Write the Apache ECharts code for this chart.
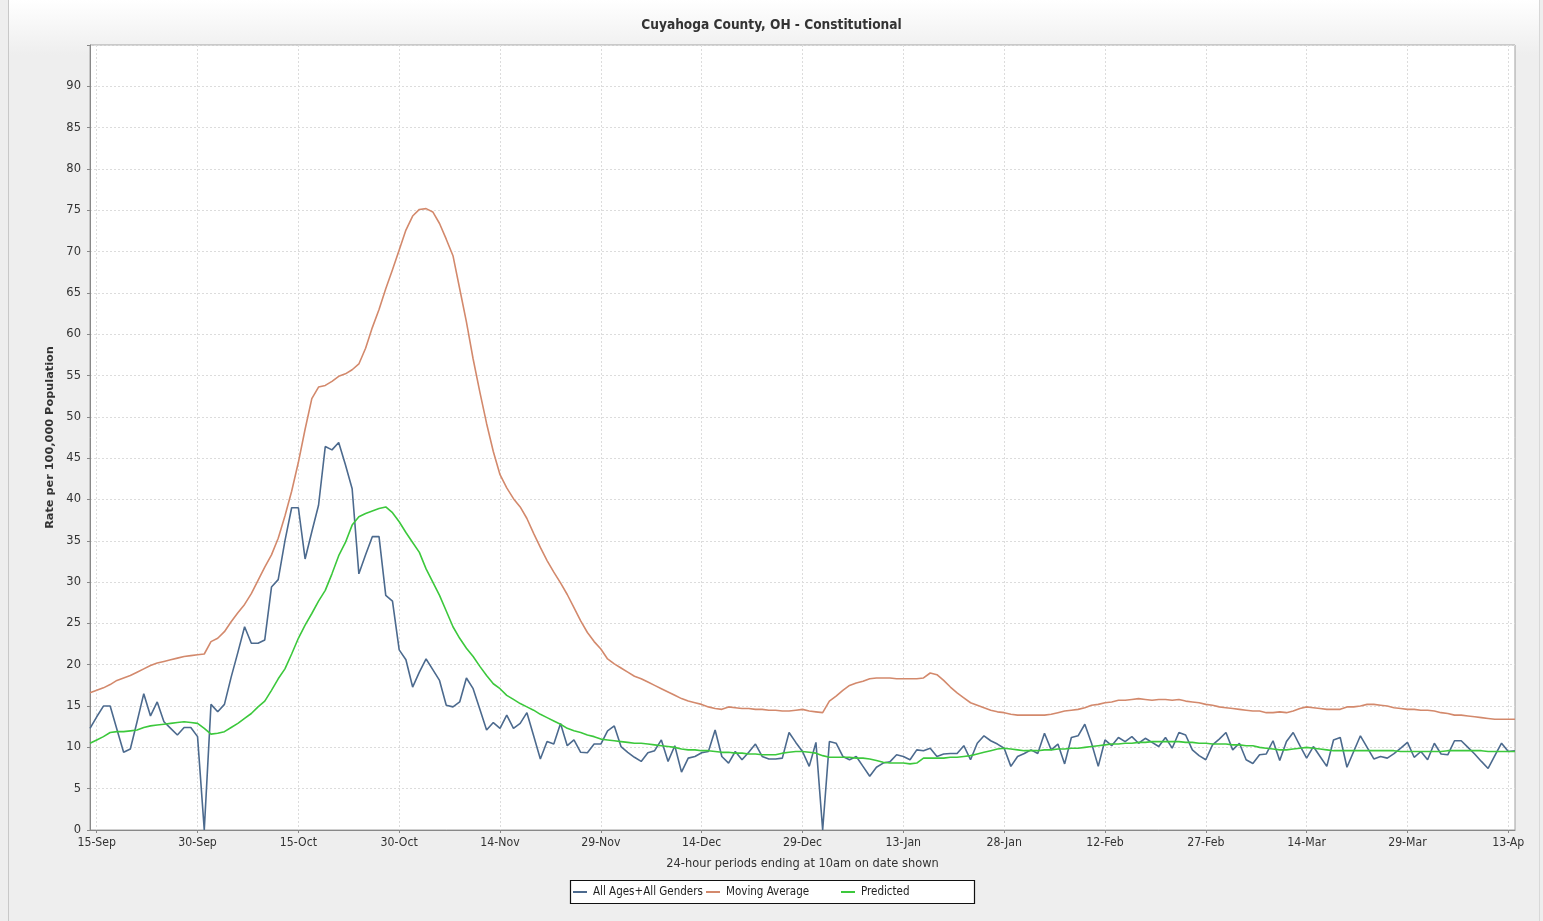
<!DOCTYPE html>
<html>
<head>
<meta charset="utf-8">
<script src="https://cdn.jsdelivr.net/npm/echarts@6/dist/echarts.min.js"></script>
<style>
  html, body { margin: 0; padding: 0; background: #eeeeee; }
  #panel { position: absolute; left: 8px; top: 0; width: 1530px; height: 921px;
           background: linear-gradient(#ffffff 0px, #eeeeee 55px, #eeeeee 921px);
           border-left: 1px solid #c8c8c8; border-right: 1px solid #d8d8d8; }
  #chart { position: absolute; left: 0; top: 0; width: 1543px; height: 921px; }
</style>
</head>
<body>
<div id="panel"></div>
<div id="chart"></div>
<script>
// ---- data ----
const startDate = [2020, 8, 14]; // 14-Sep-2020, daily values
const tickLabels = ['15-Sep','30-Sep','15-Oct','30-Oct','14-Nov','29-Nov','14-Dec','29-Dec','13-Jan','28-Jan','12-Feb','27-Feb','14-Mar','29-Mar','13-Ap'];
const tickFirstIndex = 1;
const tickEvery = 15;
const seriesNames = ['All Ages+All Genders', 'Moving Average', 'Predicted'];

const allAges = [
12.3,13.7,15.0,15.0,12.2,9.4,9.8,13.1,16.5,13.8,
15.5,13.1,12.3,11.5,12.4,12.4,11.3,0,15.2,14.3,
15.2,18.5,21.5,24.6,22.6,22.6,23.0,29.4,30.3,35.0,
39.0,39.0,32.8,36.1,39.3,46.4,46.0,46.9,44.2,41.3,
31.0,33.3,35.5,35.5,28.4,27.7,21.8,20.6,17.3,19.1,
20.7,19.4,18.1,15.1,14.9,15.5,18.4,17.1,14.6,12.1,
13.0,12.3,13.9,12.3,12.9,14.2,11.4,8.6,10.7,10.4,
12.9,10.2,10.9,9.4,9.35,10.4,10.4,12.0,12.6,10.1,
9.4,8.8,8.3,9.35,9.6,10.9,8.3,10.2,7.0,8.7,
8.9,9.35,9.5,12.1,8.9,8.1,9.5,8.5,9.4,10.4,
8.9,8.6,8.6,8.7,11.8,10.6,9.5,7.7,10.6,0,
10.7,10.5,8.9,8.5,8.9,7.7,6.5,7.6,8.1,8.25,
9.1,8.9,8.5,9.7,9.6,9.9,8.9,9.2,9.25,9.25,
10.2,8.5,10.5,11.4,10.8,10.4,9.9,7.7,8.9,9.25,
9.7,9.25,11.7,9.7,10.4,8.0,11.2,11.4,12.8,10.5,
7.7,10.9,10.2,11.2,10.7,11.3,10.5,11.1,10.6,10.1,
11.2,9.9,11.8,11.5,9.7,9.0,8.5,10.3,11.0,11.8,
9.7,10.5,8.5,8.05,9.1,9.2,10.8,8.4,10.7,11.8,
10.2,8.7,10.1,8.9,7.7,10.9,11.2,7.6,9.5,11.4,
10.0,8.6,8.9,8.7,9.25,9.9,10.6,8.8,9.5,8.5,
10.5,9.2,9.1,10.8,10.8,10.0,9.2,8.3,7.45,9.0,
10.5,9.5,9.6
];

const movingAverage = [
16.6,16.9,17.2,17.6,18.1,18.4,18.7,19.1,19.5,19.9,
20.2,20.4,20.6,20.8,21.0,21.1,21.2,21.3,22.8,23.2,
24.0,25.2,26.3,27.3,28.6,30.2,31.8,33.3,35.3,38.0,
41.0,44.5,48.5,52.2,53.6,53.8,54.3,54.9,55.2,55.7,
56.4,58.3,60.8,63.0,65.5,67.8,70.2,72.6,74.3,75.1,
75.2,74.8,73.4,71.5,69.5,65.5,61.5,57.0,53.0,49.2,
45.8,43.0,41.4,40.1,39.1,37.7,35.9,34.2,32.6,31.2,
29.9,28.5,26.9,25.3,23.9,22.8,21.9,20.7,20.1,19.6,
19.1,18.6,18.3,17.9,17.5,17.1,16.7,16.3,15.9,15.6,
15.4,15.2,14.9,14.7,14.6,14.9,14.8,14.7,14.7,14.6,
14.6,14.5,14.5,14.4,14.4,14.5,14.6,14.4,14.3,14.2,
15.6,16.2,16.9,17.5,17.8,18.0,18.3,18.4,18.4,18.4,
18.3,18.3,18.3,18.3,18.4,19.0,18.8,18.1,17.3,16.6,
16.0,15.4,15.1,14.8,14.5,14.3,14.2,14.0,13.9,13.9,
13.9,13.9,13.9,14.0,14.2,14.4,14.5,14.6,14.8,15.1,
15.2,15.4,15.5,15.7,15.7,15.8,15.9,15.8,15.7,15.8,
15.8,15.7,15.8,15.6,15.5,15.4,15.2,15.1,14.9,14.8,
14.7,14.6,14.5,14.4,14.4,14.2,14.2,14.3,14.2,14.4,
14.7,14.9,14.8,14.7,14.6,14.6,14.6,14.9,14.9,15.0,
15.2,15.2,15.1,15.0,14.8,14.7,14.6,14.6,14.5,14.5,
14.4,14.2,14.1,13.9,13.9,13.8,13.7,13.6,13.5,13.4,
13.4,13.4,13.4
];

const predicted = [
10.5,10.9,11.3,11.8,11.9,11.9,12.0,12.1,12.4,12.6,
12.7,12.8,12.9,13.0,13.1,13.0,12.9,12.3,11.6,11.7,
11.9,12.4,12.9,13.5,14.1,14.9,15.6,16.9,18.3,19.5,
21.3,23.2,24.8,26.2,27.7,29.0,31.0,33.2,34.8,36.9,
37.9,38.3,38.6,38.9,39.1,38.4,37.3,36.0,34.8,33.6,
31.6,30.0,28.4,26.5,24.6,23.2,22.0,21.0,19.8,18.7,
17.7,17.1,16.3,15.8,15.3,14.9,14.5,14.0,13.6,13.2,
12.8,12.3,12.0,11.8,11.5,11.3,11.0,10.9,10.8,10.7,
10.6,10.5,10.5,10.4,10.3,10.2,10.1,10.0,9.8,9.7,
9.7,9.6,9.6,9.5,9.4,9.4,9.3,9.3,9.2,9.2,
9.1,9.1,9.1,9.3,9.4,9.5,9.5,9.4,9.3,9.0,
8.8,8.8,8.8,8.8,8.7,8.7,8.6,8.4,8.2,8.1,
8.1,8.1,8.0,8.1,8.7,8.7,8.7,8.7,8.8,8.8,
8.9,9.0,9.2,9.4,9.6,9.8,9.9,9.8,9.7,9.6,
9.6,9.6,9.7,9.7,9.8,9.8,9.9,9.9,10.0,10.1,
10.2,10.3,10.4,10.4,10.5,10.5,10.6,10.6,10.7,10.7,
10.7,10.7,10.7,10.6,10.6,10.5,10.5,10.4,10.4,10.4,
10.3,10.3,10.2,10.2,10.0,9.9,9.8,9.7,9.7,9.8,
9.9,10.0,9.9,9.8,9.7,9.6,9.6,9.6,9.6,9.6,
9.6,9.6,9.6,9.6,9.6,9.5,9.5,9.5,9.5,9.5,
9.5,9.5,9.6,9.6,9.6,9.6,9.6,9.6,9.5,9.5,
9.5,9.5,9.5
];

// ---- categories (one per day) ----
const monthNames = ['Jan','Feb','Mar','Apr','May','Jun','Jul','Aug','Sep','Oct','Nov','Dec'];
const categories = [];
for (let i = 0; i < allAges.length; i++) {
  const d = new Date(startDate[0], startDate[1], startDate[2] + i);
  categories.push(d.getDate() + '-' + monthNames[d.getMonth()]);
}

const isTick = (idx) => idx >= tickFirstIndex && (idx - tickFirstIndex) % tickEvery === 0;

const FONT = "'DejaVu Sans', sans-serif";
const FONT_C = "'DejaVu Sans Condensed', 'Liberation Sans Narrow', 'DejaVu Sans', sans-serif";
const COLORS = ['#4c6a8e', '#d3896c', '#3cc83c'];

const legendLefts = [573, 706, 841];
const legends = seriesNames.map((n, k) => ({
  left: legendLefts[k],
  top: 886,
  padding: 0,
  itemWidth: 14,
  itemHeight: 2,
  itemGap: 0,
  icon: 'rect',
  textStyle: { fontFamily: FONT_C, fontSize: 11.5, color: '#222', padding: [0, 0, 0, 1] },
  data: [n]
}));

const chart = echarts.init(document.getElementById('chart'), null, { renderer: 'canvas' });
chart.setOption({
  animation: false,
  backgroundColor: 'transparent',
  title: {
    text: 'Cuyahoga County, OH - Constitutional',
    left: 'center',
    top: 13,
    textStyle: { fontFamily: FONT_C, fontSize: 13.6, fontWeight: 'bold', color: '#333' }
  },
  graphic: [{
    type: 'rect', z: -1,
    shape: { x: 570.5, y: 880.5, width: 404, height: 23 },
    style: { fill: '#ffffff', stroke: '#111111', lineWidth: 1.2 }
  }],
  legend: legends,
  grid: {
    left: 90, top: 45, width: 1425, height: 785,
    show: true, backgroundColor: '#ffffff', borderColor: '#a0a0a0', borderWidth: 1
  },
  xAxis: {
    type: 'category',
    data: categories,
    boundaryGap: false,
    name: '24-hour periods ending at 10am on date shown',
    nameLocation: 'middle',
    nameGap: 27,
    nameTextStyle: { fontFamily: FONT_C, fontSize: 12.7, color: '#333' },
    axisLine: { lineStyle: { color: '#888', width: 1 } },
    axisTick: { show: true, interval: (idx) => isTick(idx), length: 3, lineStyle: { color: '#888' } },
    axisLabel: {
      interval: (idx) => isTick(idx),
      formatter: (val, idx) => isTick(idx) ? tickLabels[(idx - tickFirstIndex) / tickEvery] : '',
      fontFamily: FONT_C, fontSize: 12.2, color: '#333', margin: 7
    },
    splitLine: { show: true, interval: (idx) => isTick(idx), lineStyle: { color: '#dcdcdc', type: [2, 2], width: 1 } }
  },
  yAxis: {
    type: 'value',
    min: 0, max: 95, interval: 5,
    name: 'Rate per 100,000 Population',
    nameLocation: 'middle',
    nameGap: 31,
    nameTextStyle: { fontFamily: FONT, fontSize: 11.3, fontWeight: 'bold', color: '#333' },
    axisLine: { show: true, lineStyle: { color: '#888', width: 1 } },
    axisTick: { show: true, length: 3, lineStyle: { color: '#888' } },
    axisLabel: {
      formatter: (v) => v === 95 ? '' : String(v),
      fontFamily: FONT, fontSize: 11.5, color: '#333', margin: 9
    },
    splitLine: { show: true, lineStyle: { color: '#dcdcdc', type: [2, 2], width: 1 } }
  },
  series: seriesNames.map((n, k) => ({
    name: n, type: 'line',
    data: [allAges, movingAverage, predicted][k],
    showSymbol: false,
    lineStyle: { color: COLORS[k], width: 1.6 },
    itemStyle: { color: COLORS[k] }
  }))
});
</script>
</body>
</html>
